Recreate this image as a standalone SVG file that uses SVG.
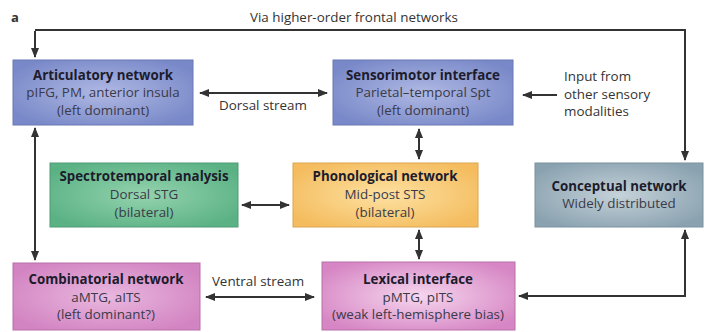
<svg xmlns="http://www.w3.org/2000/svg" width="710" height="332" viewBox="0 0 710 332">
<style>
.t{font-family:"Open Sans","Liberation Sans",sans-serif;font-size:13.3px;text-anchor:middle;fill:#1c1c2c;font-weight:bold}
.s{font-family:"Open Sans","Liberation Sans",sans-serif;font-size:13.4px;text-anchor:middle;fill:#3a3a48}
.l{font-family:"Open Sans","Liberation Sans",sans-serif;font-size:13.4px;fill:#333}
.c{fill:none;stroke:#333;stroke-width:2}
</style>
<defs>
<marker id="ah" markerUnits="userSpaceOnUse" markerWidth="10" markerHeight="10" viewBox="0 0 10 10" refX="9" refY="5" orient="auto-start-reverse"><path d="M0,1 L10,5 L0,9 Z" fill="#333"/></marker>
<radialGradient id="gb" cx="50%" cy="50%" r="60%"><stop offset="0" stop-color="#b0b9e4"/><stop offset="1" stop-color="#7888c8"/></radialGradient>
<radialGradient id="gg" cx="50%" cy="50%" r="60%"><stop offset="0" stop-color="#94d3ae"/><stop offset="1" stop-color="#5ab184"/></radialGradient>
<radialGradient id="go" cx="50%" cy="50%" r="60%"><stop offset="0" stop-color="#fde1a2"/><stop offset="1" stop-color="#f4bc5e"/></radialGradient>
<radialGradient id="gc" cx="50%" cy="50%" r="60%"><stop offset="0" stop-color="#c5d2d9"/><stop offset="1" stop-color="#8aa2b0"/></radialGradient>
<radialGradient id="gp" cx="50%" cy="50%" r="60%"><stop offset="0" stop-color="#e9b8df"/><stop offset="1" stop-color="#d283c1"/></radialGradient>
<radialGradient id="gl" cx="50%" cy="50%" r="60%"><stop offset="0" stop-color="#f6d6ee"/><stop offset="1" stop-color="#d686c4"/></radialGradient>
</defs>
<text x="11" y="22" class="l" style="font-weight:bold;font-size:13px">a</text>
<text x="354" y="22" class="l" style="text-anchor:middle">Via higher-order frontal networks</text>
<g id="connectors">
<path class="c" d="M35,30 H685 V160" marker-end="url(#ah)"/>
<path class="c" d="M35,31 V57" marker-end="url(#ah)"/>
<path class="c" d="M200,93 H327" marker-start="url(#ah)" marker-end="url(#ah)"/>
<path class="c" d="M557,95 H523" marker-end="url(#ah)"/>
<path class="c" d="M35,128 V260" marker-start="url(#ah)" marker-end="url(#ah)"/>
<path class="c" d="M419,129 V159" marker-start="url(#ah)" marker-end="url(#ah)"/>
<path class="c" d="M242,205 H289" marker-start="url(#ah)" marker-end="url(#ah)"/>
<path class="c" d="M419,230 V259" marker-start="url(#ah)" marker-end="url(#ah)"/>
<path class="c" d="M206,297 H314" marker-start="url(#ah)" marker-end="url(#ah)"/>
<path class="c" d="M519,296 H685 V230" marker-start="url(#ah)" marker-end="url(#ah)"/>
<text x="263" y="110" class="l" style="text-anchor:middle">Dorsal stream</text>
<text x="258" y="286" class="l" style="text-anchor:middle">Ventral stream</text>
<text x="564" y="81" class="l">Input from</text>
<text x="564" y="99" class="l">other sensory</text>
<text x="564" y="116" class="l">modalities</text>
</g>
<g id="articulatory">
<rect x="13" y="60" width="180" height="65" fill="url(#gb)" stroke="#6a78b4"/>
<text x="103" y="80" class="t">Articulatory network</text>
<text x="103" y="97" class="s">pIFG, PM, anterior insula</text>
<text x="103" y="115" class="s">(left dominant)</text>
</g>
<g id="sensorimotor">
<rect x="333" y="60" width="180" height="65" fill="url(#gb)" stroke="#6a78b4"/>
<text x="423" y="80" class="t">Sensorimotor interface</text>
<text x="423" y="97" class="s">Parietal–temporal Spt</text>
<text x="423" y="115" class="s">(left dominant)</text>
</g>
<g id="spectrotemporal">
<rect x="50" y="163" width="188" height="64" fill="url(#gg)" stroke="#4e9c74"/>
<text x="144" y="181" class="t">Spectrotemporal analysis</text>
<text x="144" y="199" class="s">Dorsal STG</text>
<text x="144" y="217" class="s">(bilateral)</text>
</g>
<g id="phonological">
<rect x="293" y="163" width="185" height="64" fill="url(#go)" stroke="#dca650"/>
<text x="385" y="181" class="t">Phonological network</text>
<text x="385" y="199" class="s">Mid-post STS</text>
<text x="385" y="217" class="s">(bilateral)</text>
</g>
<g id="conceptual">
<rect x="535" y="163" width="168" height="64" fill="url(#gc)" stroke="#7a909e"/>
<text x="619" y="191" class="t">Conceptual network</text>
<text x="619" y="208" class="s">Widely distributed</text>
</g>
<g id="combinatorial">
<rect x="13" y="263" width="187" height="67" fill="url(#gp)" stroke="#b870a8"/>
<text x="106" y="284" class="t">Combinatorial network</text>
<text x="106" y="302" class="s">aMTG, aITS</text>
<text x="106" y="319" class="s">(left dominant?)</text>
</g>
<g id="lexical">
<rect x="322" y="262" width="193" height="68" fill="url(#gl)" stroke="#b870a8"/>
<text x="418" y="284" class="t">Lexical interface</text>
<text x="418" y="302" class="s">pMTG, pITS</text>
<text x="418" y="319" class="s">(weak left-hemisphere bias)</text>
</g>
</svg>
